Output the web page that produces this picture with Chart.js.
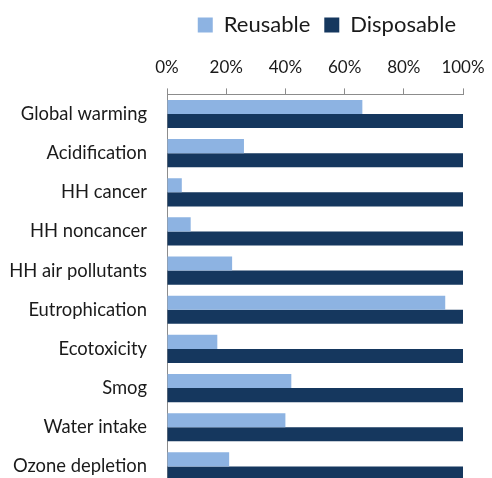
<!DOCTYPE html>
<html>
<head>
<meta charset="utf-8">
<script src="https://cdn.jsdelivr.net/npm/chart.js@4/dist/chart.umd.min.js"></script>
<style>
  html, body { margin: 0; padding: 0; background: #fff; overflow: hidden; }
  #wrap { position: relative; width: 492px; height: 517px; }
</style>
</head>
<body>
<div id="wrap"><canvas id="chart"></canvas></div>
<script>
// 카테고리 및 시리즈 값 (%)
const categories = [
  "Global warming", "Acidification", "HH cancer", "HH noncancer",
  "HH air pollutants", "Eutrophication", "Ecotoxicity", "Smog",
  "Water intake", "Ozone depletion"
];
const reusable = [66, 26, 5, 8, 22, 94, 17, 42, 40, 21];
const disposable = [100, 100, 100, 100, 100, 100, 100, 100, 100, 100];
const xTicks = [0, 20, 40, 60, 80, 100];

// 범례를 오른쪽으로 살짝 이동
const legendShift = {
  id: "legendShift",
  afterLayout(chart) {
    chart.legend.right += 7;
  }
};

const ctx = document.getElementById("chart").getContext("2d");
new Chart(ctx, {
  type: "bar",
  data: {
    labels: categories,
    datasets: [
      { label: "Reusable", data: reusable, backgroundColor: "#8db3e2" },
      { label: "Disposable", data: disposable, backgroundColor: "#15375e" }
    ]
  },
  options: {
    indexAxis: "y",
    responsive: true,
    maintainAspectRatio: false,
    animation: false,
    categoryPercentage: 0.72,
    barPercentage: 1.0,
    layout: { padding: 0 },
    plugins: {
      legend: {
        position: "top",
        fullSize: false,
        align: "end",
        labels: {
          font: { family: "Lato", size: 22 },
          color: "#1a1a1a",
          boxWidth: 15,
          boxHeight: 15,
          padding: 14
        }
      },
      tooltip: { enabled: false }
    },
    scales: {
      x: {
        position: "top",
        min: 0,
        max: 100,
        afterBuildTicks: axis => { axis.ticks = xTicks.map(v => ({ value: v })); },
        afterFit: axis => { axis.paddingRight = 29; },
        ticks: {
          callback: v => v + "%",
          font: { family: "Lato", size: 17 },
          color: "#1a1a1a",
          padding: 11,
          maxRotation: 0
        },
        grid: { drawOnChartArea: false, drawTicks: true, tickLength: 6, color: "#8c8c8c" },
        border: { display: true, color: "#8c8c8c" }
      },
      y: {
        afterFit: axis => { axis.width = 167; },
        ticks: {
          font: { family: "Lato", size: 18.4 },
          color: "#1a1a1a",
          padding: 20,
          autoSkip: false
        },
        grid: { display: false, drawTicks: false },
        border: { display: true, color: "#8c8c8c" }
      }
    }
  },
  plugins: [legendShift]
});
</script>
</body>
</html>
